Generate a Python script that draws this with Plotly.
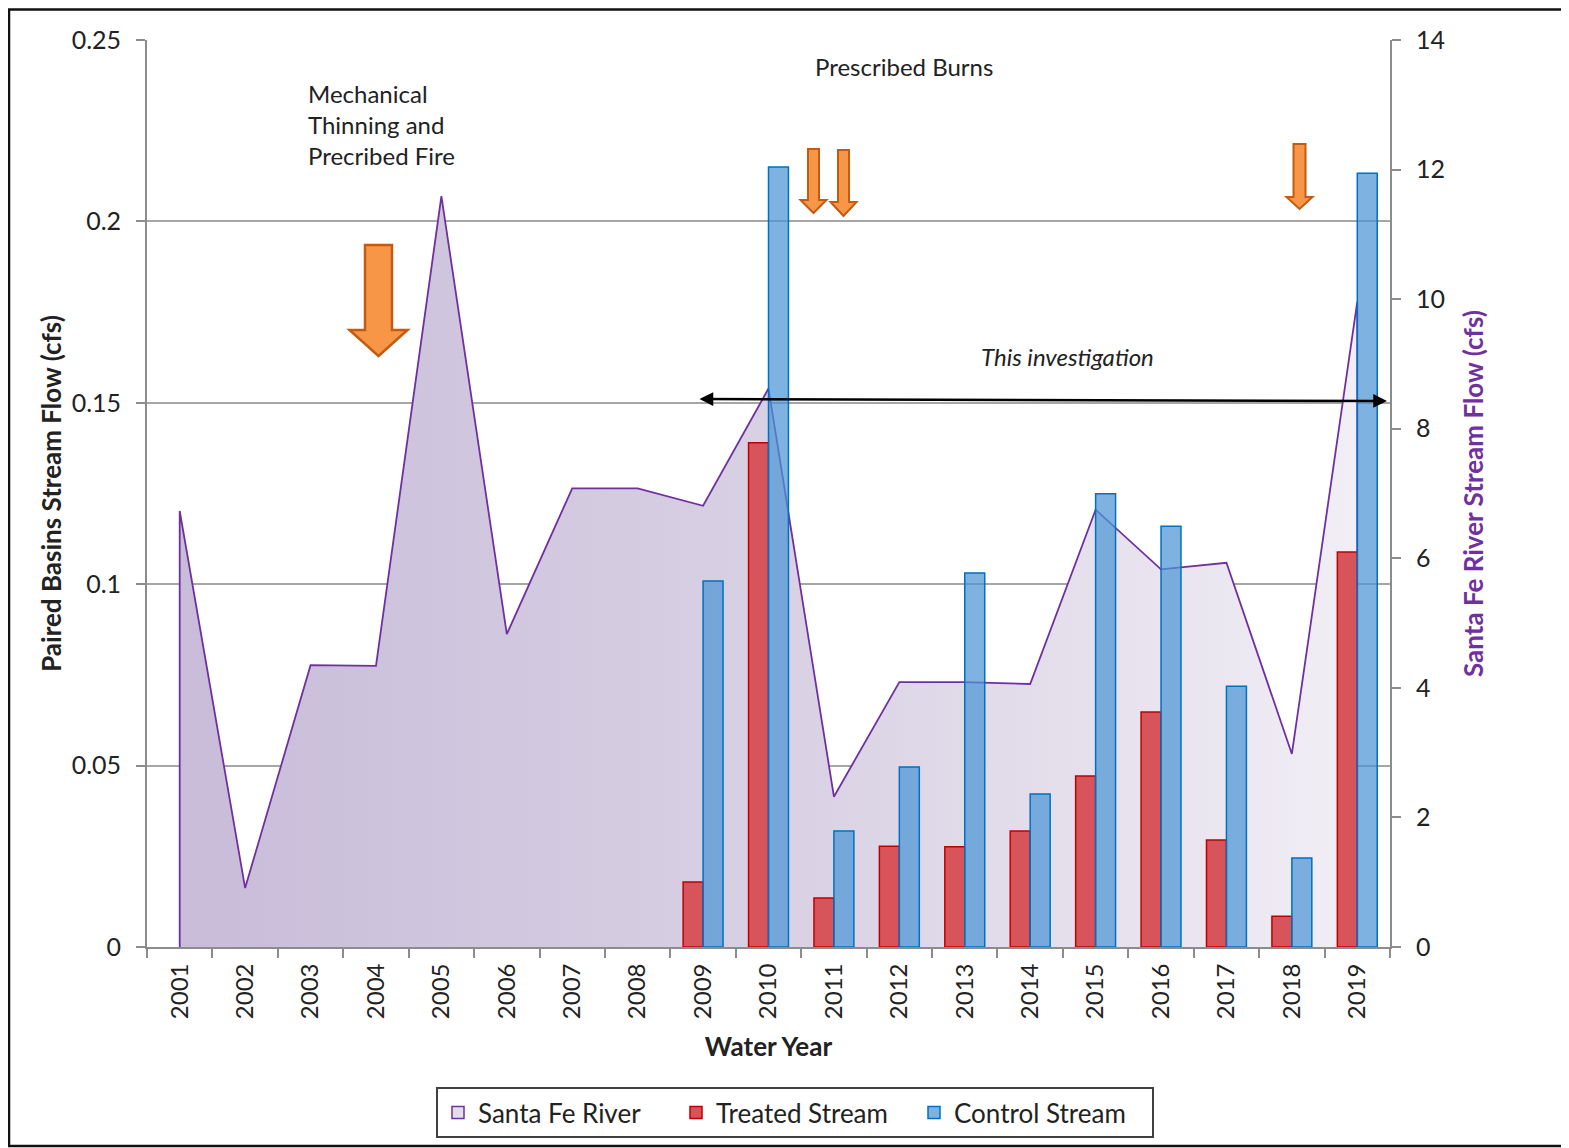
import plotly.graph_objects as go

# ---------------- data ----------------
years = [str(y) for y in range(2001, 2020)]
santa_fe = [6.73, 0.91, 4.35, 4.34, 11.59, 4.83, 7.08, 7.08, 6.81, 8.62,
            2.32, 4.09, 4.09, 4.06, 6.75, 5.83, 5.93, 2.98, 9.96]
bar_years = [str(y) for y in range(2009, 2020)]
treated = [0.0179, 0.139, 0.0135, 0.0278, 0.0276, 0.032, 0.0471, 0.0648, 0.0295, 0.0085, 0.1089]
control = [0.1009, 0.215, 0.032, 0.0496, 0.1031, 0.0422, 0.1249, 0.116, 0.0719, 0.0245, 0.2133]
left_ticks = [0, 0.05, 0.1, 0.15, 0.2, 0.25]
left_ticktext = ["0", "0.05", "0.1", "0.15", "0.2", "0.25"]
right_ticks = [0, 2, 4, 6, 8, 10, 12, 14]

FONT = "Lato"
OFF = 8                      # page body margin
W, H = 1569 - OFF, 1148 - OFF
L, R, T, B = 147, 1390, 40, 947   # plot area in screen pixels


def px(x):
    return (x - L) / (R - L)


def py(y):
    return (B - y) / (B - T)


fig = go.Figure()

# legend-only swatch for the area (square like the original legend)
fig.add_trace(go.Bar(
    x=[None], y=[None], name="Santa Fe River", legendgroup="sf", yaxis="y",
    marker=dict(color="#e4deec", line=dict(color="#7030a0", width=1.5)),
    showlegend=True, hoverinfo="skip",
))

# area (Santa Fe River) on primary y (right side), drawn under bars
area_x = [years[0]] + years + [years[-1]]
area_y = [0] + santa_fe + [0]
fig.add_trace(go.Scatter(
    x=area_x, y=area_y, mode="lines", fill="toself", name="Santa Fe River",
    legendgroup="sf", showlegend=False,
    line=dict(color="#7030a0", width=1.8),
    fillcolor="#d3c9e0",
    fillgradient=dict(type="horizontal",
                      colorscale=[[0, "#c8bcd9"], [0.5, "#d8d0e3"], [1, "#f1eef5"]]),
    yaxis="y",
))

fig.add_trace(go.Bar(
    x=bar_years, y=treated, name="Treated Stream", yaxis="y2",
    marker=dict(color="#d6545a", line=dict(color="#c00000", width=1.5)),
))
fig.add_trace(go.Bar(
    x=bar_years, y=control, name="Control Stream", yaxis="y2",
    marker=dict(color="rgba(76,150,214,0.72)", line=dict(color="#0070c0", width=1.5)),
))


def block_arrow(cx, top, head_start, tip, shaft_w, head_w, fill, line, lw):
    pts = [
        (cx - shaft_w / 2, top), (cx + shaft_w / 2, top),
        (cx + shaft_w / 2, head_start), (cx + head_w / 2, head_start),
        (cx, tip), (cx - head_w / 2, head_start),
        (cx - shaft_w / 2, head_start),
    ]
    path = "M " + " L ".join(f"{px(a):.5f},{py(b):.5f}" for a, b in pts) + " Z"
    return dict(type="path", xref="paper", yref="paper", path=path,
                fillcolor=fill, line=dict(color=line, width=lw), layer="above")


shapes = [
    block_arrow(378.5, 245, 330, 356, 27, 58, "#f79646", "#c55a11", 2.5),
    block_arrow(813.5, 149, 200, 213, 11, 26, "#f79646", "#c55a11", 2),
    block_arrow(843.5, 150, 202, 216, 11, 26, "#f79646", "#c55a11", 2),
    block_arrow(1299.5, 144, 197, 209, 12, 26, "#f79646", "#c55a11", 2),
    # outer frame
    dict(type="rect", xref="paper", yref="paper",
         x0=px(9), x1=px(1580), y0=py(1146), y1=py(9.5),
         line=dict(color="#111111", width=2.5), layer="above"),
]

annotations = [
    dict(xref="paper", yref="paper", x=px(306), y=py(77), xanchor="left", yanchor="top",
         align="left", showarrow=False,
         text="Mechanical<br>Thinning and<br>Precribed Fire",
         font=dict(family=FONT, size=24, color="#222222")),
    dict(xref="paper", yref="paper", x=px(904), y=py(67), xanchor="center", yanchor="middle",
         showarrow=False, text="Prescribed Burns",
         font=dict(family=FONT, size=24, color="#222222")),
    dict(xref="paper", yref="paper", x=px(1067), y=py(356), xanchor="center", yanchor="middle",
         showarrow=False, text="<i>This investigation</i>",
         font=dict(family=FONT, size=24, color="#222222")),
    dict(xref="paper", yref="paper", axref="pixel", ayref="pixel",
         x=px(1387), y=py(401), ax=698 - 1387, ay=-2,
         showarrow=True, arrowhead=2, arrowside="end+start", arrowsize=1.1,
         arrowwidth=2.5, arrowcolor="#000000", text=""),
]

tickfont = dict(family=FONT, size=25, color="#222222")
xtickfont = dict(family=FONT, size=24, color="#222222")
fig.update_layout(
    width=W, height=H,
    margin=dict(l=L - OFF, r=1569 - R, t=T - OFF, b=1148 - B, autoexpand=False),
    paper_bgcolor="white", plot_bgcolor="white",
    barmode="group", bargap=0.39, bargroupgap=0.0,
    font=dict(family=FONT, size=22, color="#222222"),
    xaxis=dict(
        type="category", categoryorder="array", categoryarray=years,
        range=[-0.5, len(years) - 0.5],
        tickson="boundaries", ticks="outside", ticklen=9, tickwidth=1.5, tickcolor="#8c8c8c",
        tickangle=-90, tickfont=xtickfont, ticklabelstandoff=5,
        showline=True, linecolor="#8c8c8c", linewidth=1.8, showgrid=False,
        title=dict(text="<b>Water Year</b>", font=dict(family=FONT, size=26, color="#222222"), standoff=20),
        automargin=False,
    ),
    yaxis=dict(
        side="right", range=[0, 14], tickvals=right_ticks, ticks="outside", ticklen=9,
        tickwidth=1.5, tickcolor="#8c8c8c", tickfont=tickfont, ticklabelstandoff=10,
        showline=True, linecolor="#8c8c8c", linewidth=1.8, showgrid=False, zeroline=False,
        title=dict(text="<b>Santa Fe River Stream Flow (cfs)</b>",
                   font=dict(family=FONT, size=26, color="#7030a0"), standoff=21),
        automargin=False,
    ),
    yaxis2=dict(
        side="left", overlaying="y", range=[0, 0.25],
        tickvals=left_ticks, ticktext=left_ticktext, ticks="outside", ticklen=9,
        tickwidth=1.5, tickcolor="#8c8c8c", tickfont=tickfont, ticklabelstandoff=10,
        showline=True, linecolor="#8c8c8c", linewidth=1.8,
        showgrid=True, gridcolor="#a6a6a6", gridwidth=1.5, zeroline=False,
        title=dict(text="<b>Paired Basins Stream Flow (cfs)</b>",
                   font=dict(family=FONT, size=26, color="#222222"), standoff=3),
        automargin=False,
    ),
    legend=dict(
        orientation="h", x=px(795), xanchor="center", y=py(1087), yanchor="top",
        bordercolor="#404040", borderwidth=2, bgcolor="white",
        font=dict(family=FONT, size=26, color="#222222"),
        itemwidth=30, traceorder="normal", entrywidth=193,
    ),
    shapes=shapes,
    annotations=annotations,
)

fig.write_html("out.html")
